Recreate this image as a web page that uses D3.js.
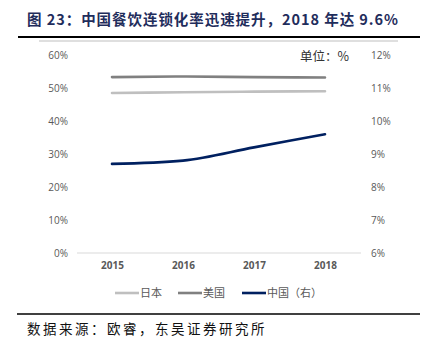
<!DOCTYPE html>
<html>
<head>
<meta charset="utf-8">
<script src="https://cdn.jsdelivr.net/npm/d3@7"></script>
<style>
  body { margin: 0; background: #fff; }
  svg { display: block; font-family: "Noto Sans CJK SC", "Noto Sans", sans-serif; }
</style>
</head>
<body>
<svg id="chart" width="433" height="350"></svg>
<script>
// data
const years = ["2015", "2016", "2017", "2018"];
const japan = [48.5, 48.7, 48.9, 49.0];   // left axis, %
const usa = [53.3, 53.5, 53.3, 53.2];     // left axis, %
const china = [8.7, 8.8, 9.2, 9.6];       // right axis, %
const leftTicks = [0, 10, 20, 30, 40, 50, 60];
const rightTicks = [6, 7, 8, 9, 10, 11, 12];

const svg = d3.select("#chart");

// title + rules
svg.append("text")
  .attr("x", 27).attr("y", 25)
  .attr("textLength", 371).attr("lengthAdjust", "spacing")
  .style("font-size", "14.5px").style("font-weight", "bold")
  .attr("fill", "#1f2d5c")
  .text("图 23：中国餐饮连锁化率迅速提升，2018 年达 9.6%");

svg.append("line").attr("x1", 18).attr("x2", 420).attr("y1", 37).attr("y2", 37)
  .attr("stroke", "#000").attr("stroke-width", 2);
svg.append("line").attr("x1", 39).attr("x2", 398).attr("y1", 41).attr("y2", 41)
  .attr("stroke", "#bfbfbf").attr("stroke-width", 1);

// scales
const x = d3.scalePoint().domain(years).range([112, 325]);
const yL = d3.scaleLinear().domain([0, 60]).range([253, 55]);
const yR = d3.scaleLinear().domain([6, 12]).range([253, 55]);

// axes
const axL = svg.append("g").attr("transform", "translate(68,0)")
  .call(d3.axisLeft(yL).tickValues(leftTicks).tickSize(0).tickPadding(0).tickFormat(d => d + "%"));
const axR = svg.append("g").attr("transform", "translate(371,0)")
  .call(d3.axisRight(yR).tickValues(rightTicks).tickSize(0).tickPadding(0).tickFormat(d => d + "%"));
[axL, axR].forEach(a => {
  a.select(".domain").remove();
  a.selectAll("text").attr("fill", "#595959").style("font-size", "10px")
    .style("font-family", "'Open Sans', 'Noto Sans', sans-serif");
});

// baseline
svg.append("line").attr("x1", 77).attr("x2", 361).attr("y1", yL(0)).attr("y2", yL(0))
  .attr("stroke", "#d9d9d9").attr("stroke-width", 1);

const axX = svg.append("g").attr("transform", `translate(0,${yL(0)})`)
  .call(d3.axisBottom(x).tickSize(0).tickPadding(9));
axX.select(".domain").remove();
axX.selectAll("text").attr("fill", "#595959").style("font-size", "10px").style("font-weight", "bold")
  .style("font-family", "'Open Sans', 'Noto Sans', sans-serif");

// unit label
svg.append("text").attr("x", 300).attr("y", 61)
  .style("font-size", "12.5px").attr("fill", "#333").text("单位：%");

// lines
const series = [
  { name: "日本", values: japan, y: yL, color: "#bfbfbf" },
  { name: "美国", values: usa, y: yL, color: "#808080" },
  { name: "中国（右）", values: china, y: yR, color: "#002060" }
];

series.forEach(s => {
  const line = d3.line().x((d, i) => x(years[i])).y(d => s.y(d)).curve(d3.curveMonotoneX);
  svg.append("path").datum(s.values)
    .attr("d", line)
    .attr("fill", "none")
    .attr("stroke", s.color)
    .attr("stroke-width", 2.6)
    .attr("stroke-linecap", "round");
});

// legend
const legendX = [115, 178, 242];
const leg = svg.append("g");
series.forEach((s, i) => {
  leg.append("line").attr("x1", legendX[i]).attr("x2", legendX[i] + 24)
    .attr("y1", 293).attr("y2", 293).attr("stroke", s.color).attr("stroke-width", 2.6);
  leg.append("text").attr("x", legendX[i] + 25).attr("y", 297)
    .style("font-size", "11px").attr("fill", "#595959").text(s.name);
});

// footer
svg.append("line").attr("x1", 17).attr("x2", 420).attr("y1", 314).attr("y2", 314)
  .attr("stroke", "#000").attr("stroke-width", 1.5);
svg.append("text").attr("x", 27).attr("y", 334)
  .style("font-size", "13.5px").style("letter-spacing", "2.5px").attr("fill", "#111")
  .text("数据来源：欧睿，东吴证券研究所");
</script>
</body>
</html>
